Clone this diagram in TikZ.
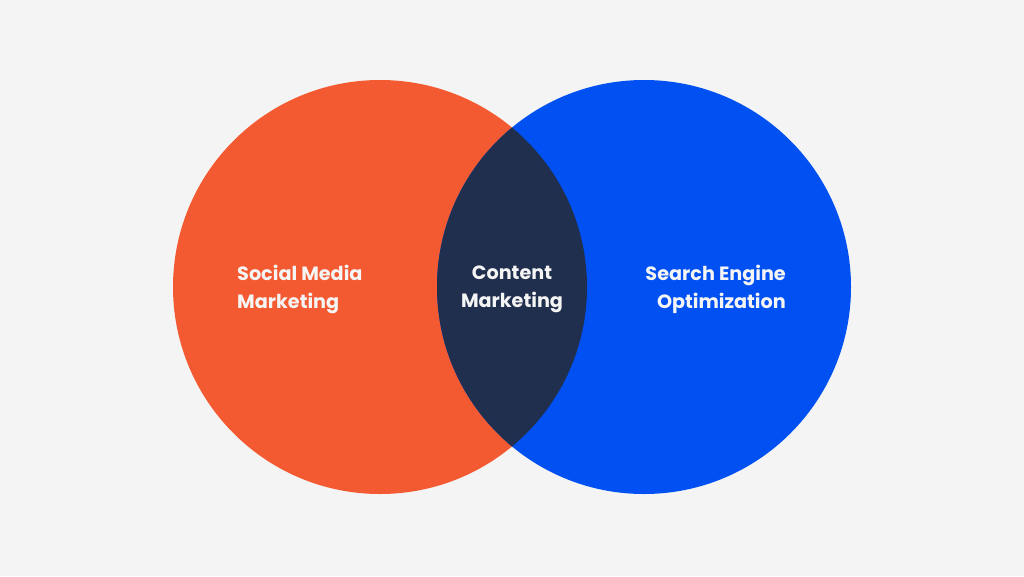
\documentclass[tikz,border=0pt]{standalone}
\usepackage{fontspec}
\setmainfont{Poppins}
\usepackage{tikz}
\definecolor{bgGrey}{HTML}{F4F4F4}
\definecolor{smmOrange}{HTML}{F45A31}
\definecolor{seoBlue}{HTML}{0050F2}
\definecolor{cmNavy}{HTML}{212F4F}
\definecolor{labelWhite}{HTML}{F5F5F5}

\begin{document}
\begin{tikzpicture}[x=1pt, y=-1pt,
    label/.style = {text=labelWhite, font=\fontsize{19.2}{28}\selectfont\bfseries, inner sep=0pt}]
    % Background
    \fill[bgGrey] (0,0) rectangle (1024,576);
    \useasboundingbox (0,0) rectangle (1024,576);

    % Circles
    \fill[smmOrange] (380,287) circle (207);
    \fill[seoBlue] (644,287) circle (207);

    % Overlap
    \begin{scope}
        \clip (380,287) circle (207);
        \fill[cmNavy] (644,287) circle (207);
    \end{scope}

    % Labels
    \node[label, anchor=west, align=left] (smm) at (237,289) {Social Media\\Marketing};
    \node[label, align=center] (cm) at (512,289) {Content\\Marketing};
    \node[label, anchor=east, align=right] (seo) at (786,289) {Search Engine\\Optimization};
\end{tikzpicture}
\end{document}
